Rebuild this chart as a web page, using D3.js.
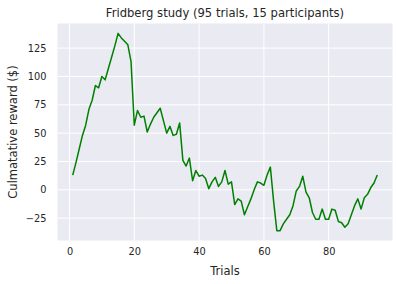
<!DOCTYPE html>
<html>
<head>
<meta charset="utf-8">
<script src="https://cdn.jsdelivr.net/npm/d3@7"></script>
<style>
  body { margin: 0; background: #fff; }
  text { font-family: "DejaVu Sans", sans-serif; fill: #262626; }
</style>
</head>
<body>
<script>
// cumulative reward per trial
const trials = d3.range(1, 96);
const reward = [
  13, 24, 36, 48, 57, 71, 79, 92, 90, 100,
  97, 107, 117, 127, 138, 134, 131, 128, 113, 57,
  70, 64, 65, 51, 58, 64, 68, 72, 61, 50,
  56, 48, 49, 59, 26, 21, 28, 8, 17, 12,
  13, 10, 1, 7, 11, 3, 7, 17, 5, 7,
  -13, -8, -10, -22, -15, -8, 0, 7, 6, 4,
  13, 20, -10, -36, -36, -30, -26, -22, -14, -1,
  3, 12, -2, -7, -20, -26, -26, -17, -26, -26,
  -17, -18, -28, -29, -33, -30, -22, -14, -8, -17,
  -7, -4, 2, 6, 13
];
const xTicks = [0, 20, 40, 60, 80];
const yTicks = [-25, 0, 25, 50, 75, 100, 125];

const W = 398, H = 284;
const plot = { left: 57.5, right: 392.5, top: 23.5, bottom: 240.5 };

const svg = d3.select('body')
  .append('svg')
  .attr('width', W)
  .attr('height', H);

// matplotlib style 5% margins
const xMin = d3.min(trials), xMax = d3.max(trials);
const xPad = (xMax - xMin) * 0.05;
const yMin = d3.min(reward), yMax = d3.max(reward);
const yPad = (yMax - yMin) * 0.05;

const x = d3.scaleLinear()
  .domain([xMin - xPad, xMax + xPad])
  .range([plot.left, plot.right]);

const y = d3.scaleLinear()
  .domain([yMin - yPad, yMax + yPad])
  .range([plot.bottom, plot.top]);

svg.append('rect')
  .attr('x', plot.left)
  .attr('y', plot.top)
  .attr('width', plot.right - plot.left)
  .attr('height', plot.bottom - plot.top)
  .attr('fill', '#eaeaf2');

/* grid lines */
svg.append('g')
  .selectAll('line')
  .data(xTicks)
  .enter()
  .append('line')
  .attr('x1', d => x(d)).attr('x2', d => x(d))
  .attr('y1', plot.top).attr('y2', plot.bottom)
  .attr('stroke', '#fff')
  .attr('stroke-width', 1);

svg.append('g')
  .selectAll('line')
  .data(yTicks)
  .enter()
  .append('line')
  .attr('x1', plot.left).attr('x2', plot.right)
  .attr('y1', d => y(d)).attr('y2', d => y(d))
  .attr('stroke', '#fff')
  .attr('stroke-width', 1);

/* axes, ticks hidden like seaborn darkgrid */
const xAxis = svg.append('g')
  .attr('transform', `translate(0,${plot.bottom})`)
  .call(d3.axisBottom(x).tickValues(xTicks).tickSize(0).tickPadding(8));

const yAxis = svg.append('g')
  .attr('transform', `translate(${plot.left},0)`)
  .call(d3.axisLeft(y).tickValues(yTicks).tickSize(0).tickPadding(11)
    .tickFormat(d => d < 0 ? '\u2212' + Math.abs(d) : d));

[xAxis, yAxis].forEach(a => {
  a.select('.domain').remove();
  a.selectAll('text')
    .attr('font-family', '"DejaVu Sans", sans-serif')
    .attr('font-size', 9.8)
    .attr('fill', '#262626');
});

const line = d3.line()
  .x((d, i) => x(trials[i]))
  .y(d => y(d));

svg.append('path')
  .datum(reward)
  .attr('d', line)
  .attr('fill', 'none')
  .attr('stroke', 'green')
  .attr('stroke-width', 1.5)
  .attr('stroke-linejoin', 'round');

svg.append('text')
  .attr('x', (plot.left + plot.right) / 2)
  .attr('y', 16.5)
  .attr('text-anchor', 'middle')
  .attr('font-size', 11.6)
  .text('Fridberg study (95 trials, 15 participants)');

svg.append('text')
  .attr('x', (plot.left + plot.right) / 2)
  .attr('y', 274.5)
  .attr('text-anchor', 'middle')
  .attr('font-size', 11.5)
  .text('Trials');

svg.append('text')
  .attr('transform', `translate(16.5,${(plot.top + plot.bottom) / 2}) rotate(-90)`)
  .attr('text-anchor', 'middle')
  .attr('font-size', 11.5)
  .text('Culmatative reward ($)');
</script>
</body>
</html>
